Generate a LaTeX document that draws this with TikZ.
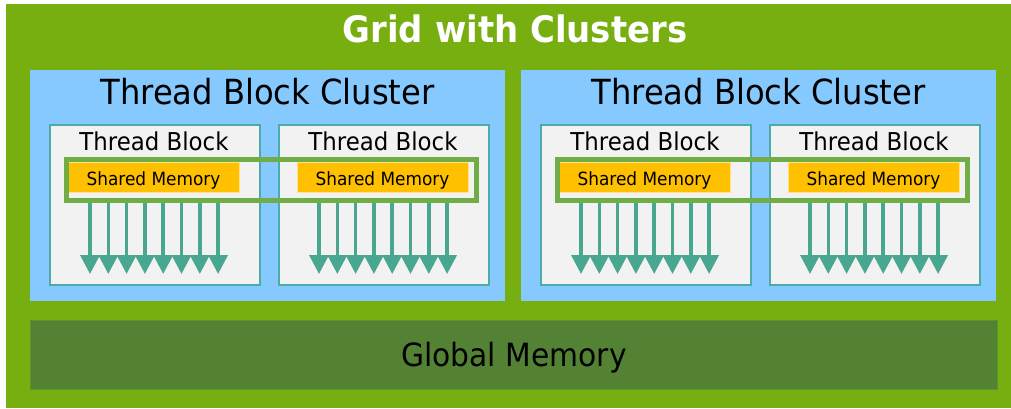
\documentclass[tikz,border=0pt]{standalone}
\usepackage{fontspec}
\setmainfont{DejaVu Sans}[FakeStretch=0.93]
\usetikzlibrary{arrows.meta}

\definecolor{gridgreen}{RGB}{118,175,15}
\definecolor{clusterblue}{RGB}{133,201,255}
\definecolor{blockfill}{RGB}{242,242,242}
\definecolor{blockedge}{RGB}{78,172,168}
\definecolor{smemorange}{RGB}{255,192,0}
\definecolor{smemedge}{RGB}{255,226,140}
\definecolor{dsmemgreen}{RGB}{112,173,71}
\definecolor{threadteal}{RGB}{74,167,143}
\definecolor{globalgreen}{RGB}{84,130,53}
\definecolor{globaledge}{RGB}{92,148,44}

\tikzset{
  area/.style={rectangle, inner sep=0pt, anchor=north west},
  gridbox/.style={area, fill=gridgreen},
  clusterbox/.style={area, fill=clusterblue},
  blockbox/.style={area, fill=blockfill, draw=blockedge, line width=1.6pt},
  smembox/.style={area, fill=smemorange, draw=smemedge, line width=0.8pt},
  dsmembox/.style={area, draw=dsmemgreen, line width=5pt},
  globalbox/.style={area, fill=globalgreen, draw=globaledge, line width=1pt},
  thread/.style={draw=threadteal, line width=3.6pt,
    -{Triangle[width=19pt,length=19pt]}, shorten <=0pt},
  label/.style={anchor=base, inner sep=0pt},
}

\begin{document}
\begin{tikzpicture}[x=1pt,y=-1pt]
  \useasboundingbox[fill=white] (0,0) rectangle (1011,409);

  % the grid
  \node[gridbox, minimum width=1005pt, minimum height=404pt] (grid) at (6,4) {};
  \node[label, text=white, font=\bfseries\fontsize{36.5}{40}\selectfont]
    (gridtitle) at (515,42.7) {Grid with Clusters};

  % two thread block clusters
  \foreach \c/\dx in {1/0, 2/491} {
    \node[clusterbox, minimum width=475pt, minimum height=231pt]
      (cluster\c) at (30+\dx,70) {};
    \node[label, font=\fontsize{34.6}{38}\selectfont]
      (clustertitle\c) at (267.5+\dx,104.3) {Thread Block Cluster};

    \foreach \b/\bx in {1/49, 2/278} {
      \pgfmathsetmacro{\xl}{\bx+\dx}
      \node[blockbox, minimum width=210pt, minimum height=160pt]
        (block\c\b) at (\xl,124) {};
      \node[label, font=\fontsize{24.6}{28}\selectfont]
        (blocktitle\c\b) at (\xl+105,150) {Thread Block};
      \node[smembox, minimum width=171pt, minimum height=30pt]
        (smem\c\b) at (\xl+19,162) {};
      \node[label, font=\fontsize{18.2}{20}\selectfont]
        (smemtext\c\b) at (\xl+19+85.5,185) {Shared Memory};
      % eight threads per block
      \foreach \t in {0,...,7} {
        \coordinate (src\c\b\t) at (\xl+41+18.3*\t,201);
        \coordinate (dst\c\b\t) at (\xl+41+18.3*\t,274);
        \draw[thread] (src\c\b\t) -- (dst\c\b\t);
      }
    }

    % distributed shared memory spanning both blocks
    \node[dsmembox, minimum width=410.4pt, minimum height=41.6pt]
      (dsmem\c) at (63.8+\dx,156.8) {};
  }

  % global memory
  \node[globalbox, minimum width=967pt, minimum height=69pt] (global) at (30,320) {};
  \node[label, font=\fontsize{32}{36}\selectfont]
    (globaltext) at (514,366) {Global Memory};
\end{tikzpicture}
\end{document}
